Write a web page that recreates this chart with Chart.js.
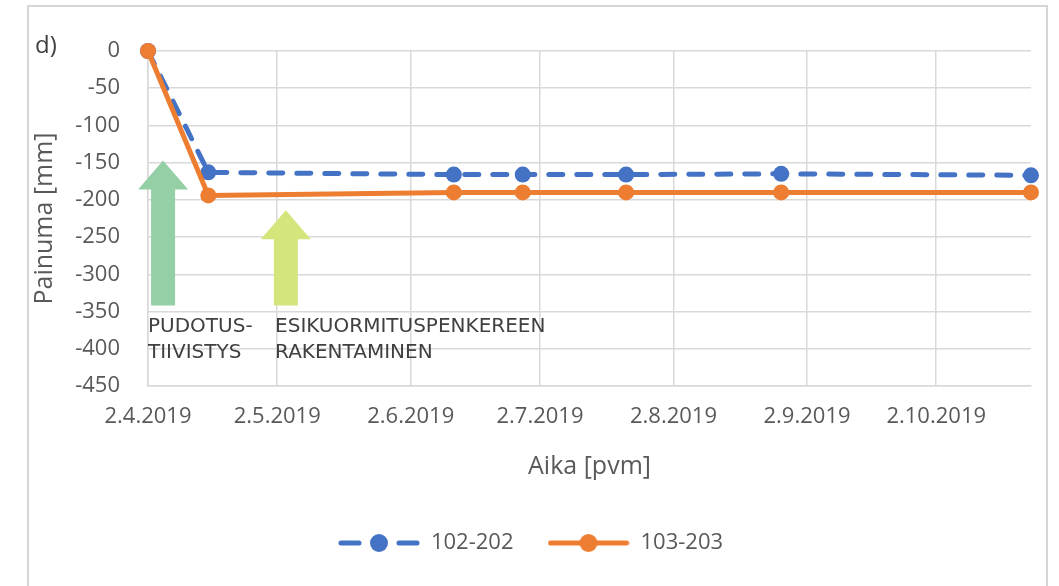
<!DOCTYPE html>
<html>
<head>
<meta charset="utf-8">
<script src="https://cdn.jsdelivr.net/npm/chart.js@4"></script>
<style>
  html, body { margin: 0; padding: 0; background: #fff; }
  #wrap { width: 1059px; height: 586px; }
</style>
</head>
<body>
<div id="wrap"><canvas id="chart" width="1059" height="586"></canvas></div>
<script>
// mittauspäivät ja painumat
const dates = ['2.4.2019', '16.4.2019', '12.6.2019', '28.6.2019', '22.7.2019', '27.8.2019', '24.10.2019'];
const painuma102 = [0, -163, -166, -166, -166, -165, -167];
const painuma103 = [0, -194, -190, -190, -190, -190, -190];
const seriesNames = ['102-202', '103-203'];
const tickLabels = ['2.4.2019', '2.5.2019', '2.6.2019', '2.7.2019', '2.8.2019', '2.9.2019', '2.10.2019'];
const yTicks = [0, -50, -100, -150, -200, -250, -300, -350, -400, -450];

// nuolet ja tekstit kuvaan
const arrows = [
    { day: 3.5, top: -147, bottom: -342, color: '#95cfa6' },
    { day: 32, top: -214, bottom: -342, color: '#d4e67b' }
];
const notes = [
    { day: 0, y: -371, lines: ['PUDOTUS-', 'TIIVISTYS'] },
    { day: 29.5, y: -371, lines: ['ESIKUORMITUSPENKEREEN', 'RAKENTAMINEN'] }
];

const BLUE = '#4472c4';
const ORANGE = '#ed7d31';
const GRID = '#d9d9d9';
const TXT = '#595959';

function dayOf(str) {
    const [d, m, y] = str.split('.').map(Number);
    return (Date.UTC(y, m - 1, d) - Date.UTC(2019, 3, 2)) / 86400000;
}

const xDays = dates.map(dayOf);
const tickDays = tickLabels.map(dayOf);

// legendan symbolit (viiva + pallo)
function legendSymbol(color, dashed) {
    const c = document.createElement('canvas');
    c.width = 82; c.height = 22;
    const g = c.getContext('2d');
    g.strokeStyle = color;
    g.fillStyle = color;
    g.lineWidth = 5;
    g.lineCap = 'round';
    g.beginPath();
    if (dashed) {
        g.moveTo(3, 11); g.lineTo(21, 11);
        g.moveTo(61, 11); g.lineTo(79, 11);
    } else {
        g.moveTo(3, 11); g.lineTo(79, 11);
    }
    g.stroke();
    g.beginPath();
    g.arc(41, 11, 9, 0, Math.PI * 2);
    g.fill();
    return c;
}

const notesPlugin = {
    id: 'notes',
    beforeDraw(chart) {
        const ctx = chart.ctx;
        ctx.save();
        ctx.strokeStyle = '#d6d6d6';
        ctx.lineWidth = 2;
        ctx.strokeRect(28, 6, 1019, 620);
        ctx.restore();
    },
    beforeDatasetsDraw(chart) {
        const { ctx, scales: { x, y } } = chart;
        ctx.save();
        arrows.forEach(a => {
            const cx = x.getPixelForValue(a.day);
            const tip = y.getPixelForValue(a.top);
            const base = y.getPixelForValue(a.bottom);
            const head = 29;
            ctx.fillStyle = a.color;
            ctx.beginPath();
            ctx.moveTo(cx, tip);
            ctx.lineTo(cx + 25, tip + head);
            ctx.lineTo(cx + 12, tip + head);
            ctx.lineTo(cx + 12, base);
            ctx.lineTo(cx - 12, base);
            ctx.lineTo(cx - 12, tip + head);
            ctx.lineTo(cx - 25, tip + head);
            ctx.closePath();
            ctx.fill();
        });
        ctx.fillStyle = '#404040';
        ctx.font = '20px "DejaVu Sans"';
        ctx.textAlign = 'left';
        ctx.textBaseline = 'middle';
        notes.forEach(n => {
            const px = x.getPixelForValue(n.day);
            const py = y.getPixelForValue(n.y);
            n.lines.forEach((line, i) => ctx.fillText(line, px, py + i * 26));
        });
        ctx.restore();
    },
    afterDraw(chart) {
        const ctx = chart.ctx;
        ctx.save();
        ctx.fillStyle = '#404040';
        ctx.font = '24px "Open Sans"';
        ctx.textBaseline = 'middle';
        ctx.fillText('d)', 35, 46);
        ctx.restore();
    }
};

const chart = new Chart(document.getElementById('chart'), {
    type: 'line',
    data: {
        datasets: [
            {
                label: seriesNames[0],
                data: xDays.map((d, i) => ({ x: d, y: painuma102[i] })),
                borderColor: BLUE,
                backgroundColor: BLUE,
                borderWidth: 5,
                borderDash: [14, 14],
                borderCapStyle: 'round',
                pointRadius: 8,
                pointBorderWidth: 0,
                clip: false,
                order: 1
            },
            {
                label: seriesNames[1],
                data: xDays.map((d, i) => ({ x: d, y: painuma103[i] })),
                borderColor: ORANGE,
                backgroundColor: ORANGE,
                borderWidth: 5,
                borderCapStyle: 'round',
                pointRadius: 8,
                pointBorderWidth: 0,
                clip: false,
                order: 0
            }
        ]
    },
    options: {
        responsive: false,
        animation: false,
        layout: { padding: { left: 30, right: 28, top: 51, bottom: 22 } },
        plugins: {
            tooltip: { enabled: false },
            legend: {
                position: 'bottom',
                labels: {
                    font: { family: 'Open Sans', size: 22 },
                    color: TXT,
                    usePointStyle: true,
                    pointStyleWidth: 82,
                    padding: 34,
                    generateLabels: () => [
                        { text: seriesNames[0], pointStyle: legendSymbol(BLUE, true), fontColor: TXT, datasetIndex: 0, lineWidth: 0 },
                        { text: seriesNames[1], pointStyle: legendSymbol(ORANGE, false), fontColor: TXT, datasetIndex: 1, lineWidth: 0 }
                    ]
                }
            }
        },
        scales: {
            x: {
                type: 'linear',
                min: 0,
                max: xDays[xDays.length - 1],
                afterBuildTicks: axis => { axis.ticks = tickDays.map(v => ({ value: v })); },
                afterFit: axis => { axis.height = 112; },
                ticks: {
                    autoSkip: false,
                    maxRotation: 0,
                    padding: 18,
                    color: TXT,
                    font: { family: 'Open Sans', size: 22 },
                    callback: (v, i) => tickLabels[i]
                },
                grid: { color: GRID, lineWidth: 1.5, drawTicks: false },
                border: { color: GRID, width: 1.5 },
                title: {
                    display: true,
                    text: 'Aika [pvm]',
                    color: TXT,
                    font: { family: 'Open Sans', size: 25 },
                    padding: { top: 0, bottom: 16 }
                }
            },
            y: {
                min: -450,
                max: 0,
                afterBuildTicks: axis => { axis.ticks = yTicks.map(v => ({ value: v })); },
                afterFit: axis => { axis.width = 118; },
                ticks: {
                    padding: 28,
                    color: TXT,
                    font: { family: 'Open Sans', size: 22 }
                },
                grid: { color: GRID, lineWidth: 1.5, drawTicks: false },
                border: { color: GRID, width: 1.5 },
                title: {
                    display: true,
                    text: 'Painuma [mm]',
                    color: TXT,
                    font: { family: 'Open Sans', size: 25 },
                    padding: { top: 0, bottom: 0 }
                }
            }
        }
    },
    plugins: [notesPlugin]
});
</script>
</body>
</html>
